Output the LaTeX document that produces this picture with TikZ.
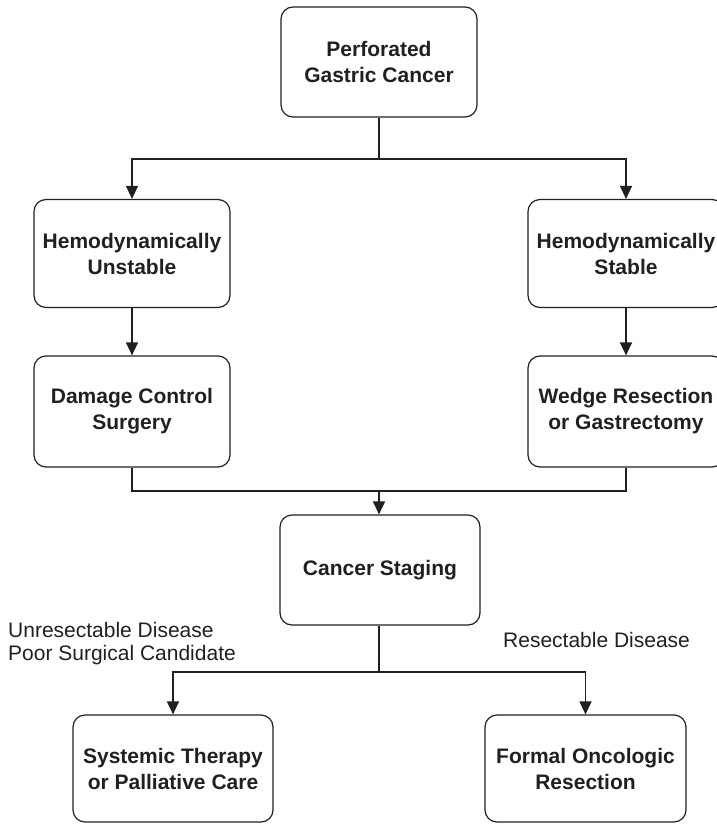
\documentclass[tikz,border=0pt]{standalone}
\usepackage{fontspec}
\setmainfont{Liberation Sans}
\usetikzlibrary{arrows.meta}
\definecolor{ink}{HTML}{231F20}
\begin{document}
\begin{tikzpicture}[x=1pt,y=-1pt,
  flowbox/.style={draw=ink, line width=1.2pt, rounded corners=12pt,
    minimum width=196pt, minimum height=108pt, align=center,
    text=ink, font=\bfseries\fontsize{21}{26}\selectfont, inner sep=0pt},
  link/.style={draw=ink, line width=1.2pt},
  flow/.style={link, -{Triangle[width=12pt,length=13pt]}},
  note/.style={text=ink, font=\fontsize{21}{26}\selectfont, inner sep=0pt, anchor=base west}]
  \useasboundingbox (0,0) rectangle (717,825);

  % boxes
  \node[flowbox, minimum height=110pt] (top) at (379,62) {Perforated\\Gastric Cancer};
  \node[flowbox] (unstable) at (132,253.5) {Hemodynamically\\Unstable};
  \node[flowbox] (stable) at (626,253.5) {Hemodynamically\\Stable};
  \node[flowbox, minimum height=111pt] (damage) at (132,411.5) {Damage Control\\Surgery};
  \node[flowbox, minimum height=111pt] (wedge) at (626,411.5) {Wedge Resection\\or Gastrectomy};
  \node[flowbox, minimum width=200pt, minimum height=110pt] (staging) at (380,570) {Cancer Staging};
  \node[flowbox, minimum width=200pt, minimum height=107pt] (systemic) at (173,768.5) {Systemic Therapy\\or Palliative Care};
  \node[flowbox, minimum width=201pt, minimum height=107pt] (formal) at (585.5,768.5) {Formal Oncologic\\Resection};

  % junction points
  \coordinate (split) at (379,159);
  \coordinate (merge) at (379,491);
  \coordinate (branch) at (379,672);

  % connectors
  \draw[link] (top.south -| split) -- (split);
  \draw[flow] (split) -| (unstable.north);
  \draw[flow] (split) -| (stable.north);
  \draw[flow] (unstable) -- (damage);
  \draw[flow] (stable) -- (wedge);
  \draw[link] (damage.south) |- (merge);
  \draw[link] (wedge.south) |- (merge);
  \draw[flow] (merge) -- (merge |- staging.north);
  \draw[link] (staging.south -| branch) -- (branch);
  \draw[flow] (branch) -| (systemic.north);
  \draw[flow] (branch) -| (formal.north);

  % branch labels
  \node[note] (unres) at (8,637) {Unresectable Disease};
  \node[note] (poor) at (8,660) {Poor Surgical Candidate};
  \node[note] (res) at (503,647) {Resectable Disease};
\end{tikzpicture}
\end{document}
